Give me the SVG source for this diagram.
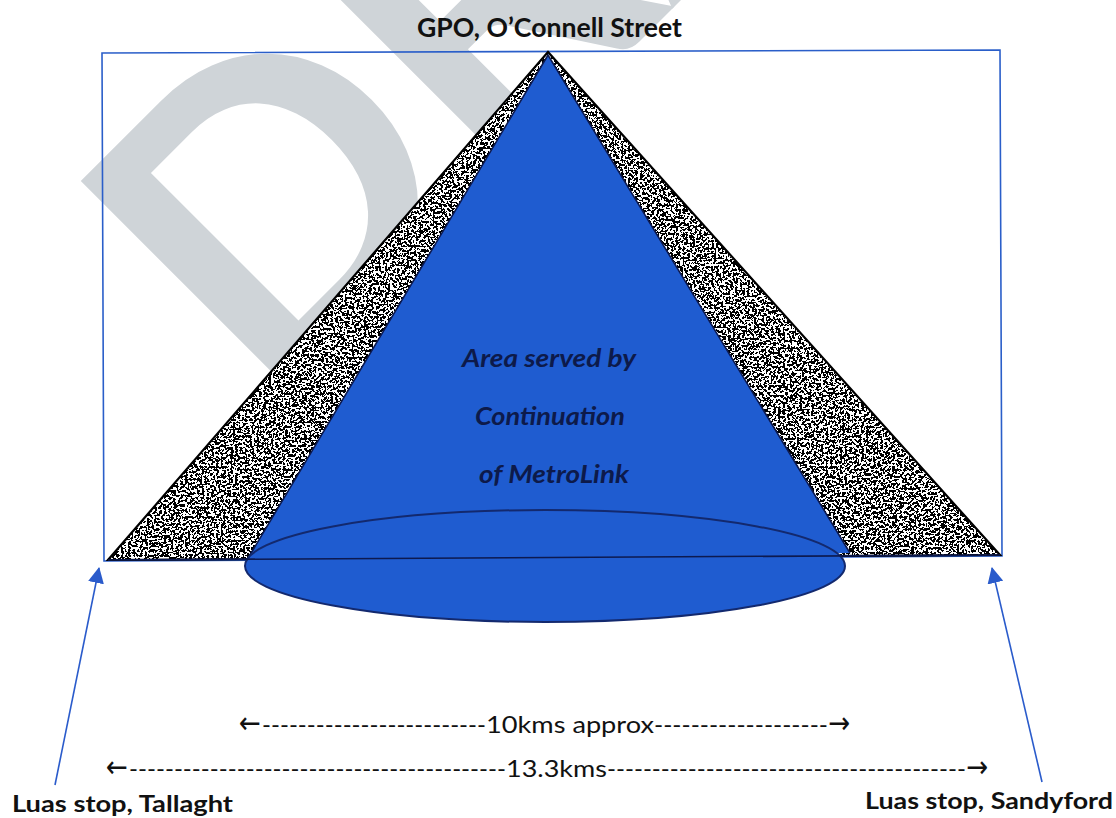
<svg xmlns="http://www.w3.org/2000/svg" width="1116" height="818" viewBox="0 0 1116 818">
  <style>
    .lbl-bold { font-family: Lato, "Open Sans", "Liberation Sans", sans-serif; font-weight: 700; fill: #111; }
    .lbl-dim { font-family: Lato, "DejaVu Sans", "Liberation Sans", sans-serif; font-weight: 400; fill: #111; }
    .arrow-glyph { font-family: "DejaVu Sans", "Liberation Sans", sans-serif; font-weight: 400; }
    .lbl-area { font-family: Lato, "Open Sans", "Liberation Sans", sans-serif; font-style: italic; font-weight: 700; fill: #0d1a4a; }
    .frame { fill: none; stroke: #2a5ec9; stroke-width: 1.6; }
    .edge { fill: none; stroke: #0d1a50; stroke-width: 1.6; }
    .pointer { stroke: #2a5bcb; stroke-width: 1.6; fill: none; }
  </style>
  <defs>
    <!-- speckled black/white grain for the outer catchment band -->
    <filter id="grain" x="0" y="0" width="1" height="1" color-interpolation-filters="sRGB">
      <feTurbulence type="fractalNoise" baseFrequency="0.42" numOctaves="2" seed="11" result="noise"/>
      <feColorMatrix in="noise" type="matrix" values="0 0 0 0 0  0 0 0 0 0  0 0 0 0 0  -2 0 0 0 1.5" result="mask"/>
      <feComponentTransfer in="mask" result="dots">
        <feFuncA type="discrete" tableValues="0 1"/>
      </feComponentTransfer>
      <feFlood flood-color="#ffffff" result="paper"/>
      <feMerge>
        <feMergeNode in="paper"/>
        <feMergeNode in="dots"/>
      </feMerge>
    </filter>
    <clipPath id="outerClip">
      <polygon points="548,52 108,560 1000,555"/>
    </clipPath>
    <marker id="tip" viewBox="0 0 16 16" refX="15" refY="8" markerWidth="16" markerHeight="16" markerUnits="userSpaceOnUse" orient="auto">
      <path d="M0,0 L16,8 L0,16 Z" fill="#2a5bcb"/>
    </marker>
  </defs>

  <rect width="1116" height="818" fill="#ffffff"/>

  <!-- faint diagonal watermark -->
  <g id="watermark">
    <text x="0" y="0" transform="translate(267,414) rotate(-45)" font-family="Lato, 'Open Sans', sans-serif" font-weight="700" font-size="410" fill="#cfd4d8">DRAFT</text>
  </g>

  <!-- bounding frame -->
  <g id="frame">
    <polygon class="frame" points="102,53 1000,50 1002,556 104,561"/>
  </g>

  <!-- outer speckled triangle -->
  <g id="outer-zone">
    <rect x="100" y="45" width="910" height="520" filter="url(#grain)" clip-path="url(#outerClip)"/>
    <polygon points="548,52 108,560 1000,555" fill="none" stroke="#000" stroke-width="2.2"/>
  </g>

  <!-- area served: blue cone with elliptical base -->
  <g id="served-area">
    <polygon points="548,55 247,560 850,553" fill="#1f5cd0"/>
    <polyline class="edge" points="247,560 548,55 850,553"/>
    <ellipse cx="545" cy="566" rx="300" ry="56" fill="#1f5cd0" stroke="#13296e" stroke-width="2"/>
    <line class="edge" x1="108" y1="560" x2="1000" y2="555" stroke="#0a1640" stroke-width="2"/>
    <text class="lbl-area" font-size="25" x="462" y="367" textLength="174" lengthAdjust="spacingAndGlyphs">Area served by</text>
    <text class="lbl-area" font-size="25" x="475" y="425" textLength="150" lengthAdjust="spacingAndGlyphs">Continuation</text>
    <text class="lbl-area" font-size="25" x="479" y="483" textLength="150" lengthAdjust="spacingAndGlyphs">of MetroLink</text>
  </g>

  <!-- place labels -->
  <g id="gpo">
    <text class="lbl-bold" font-size="27" x="417" y="37" textLength="265" lengthAdjust="spacingAndGlyphs">GPO, O’Connell Street</text>
  </g>
  <g id="tallaght">
    <text class="lbl-bold" font-size="23" x="12" y="812" textLength="221" lengthAdjust="spacingAndGlyphs">Luas stop, Tallaght</text>
  </g>
  <g id="sandyford">
    <text class="lbl-bold" font-size="23" x="865" y="809" textLength="248" lengthAdjust="spacingAndGlyphs">Luas stop, Sandyford</text>
  </g>

  <!-- pointers and distance lines -->
  <g id="connectors">
    <line class="pointer" x1="55" y1="785" x2="99" y2="568" marker-end="url(#tip)"/>
    <line class="pointer" x1="1042" y1="782" x2="992" y2="568" marker-end="url(#tip)"/>
    <text class="lbl-dim" font-size="24" y="733"><tspan class="arrow-glyph" x="239" font-size="30" textLength="22" lengthAdjust="spacingAndGlyphs">←</tspan><tspan x="262" textLength="224" lengthAdjust="spacingAndGlyphs">-------------------------</tspan><tspan x="486" textLength="168" lengthAdjust="spacingAndGlyphs">10kms approx</tspan><tspan x="654" textLength="174" lengthAdjust="spacingAndGlyphs">-------------------</tspan><tspan class="arrow-glyph" x="828" font-size="30" textLength="22" lengthAdjust="spacingAndGlyphs">→</tspan></text>
    <text class="lbl-dim" font-size="24" y="777"><tspan class="arrow-glyph" x="106" font-size="30" textLength="22" lengthAdjust="spacingAndGlyphs">←</tspan><tspan x="129" textLength="377" lengthAdjust="spacingAndGlyphs">------------------------------------------</tspan><tspan x="506" textLength="101" lengthAdjust="spacingAndGlyphs">13.3kms</tspan><tspan x="607" textLength="359" lengthAdjust="spacingAndGlyphs">----------------------------------------</tspan><tspan class="arrow-glyph" x="966" font-size="30" textLength="22" lengthAdjust="spacingAndGlyphs">→</tspan></text>
  </g>
</svg>
